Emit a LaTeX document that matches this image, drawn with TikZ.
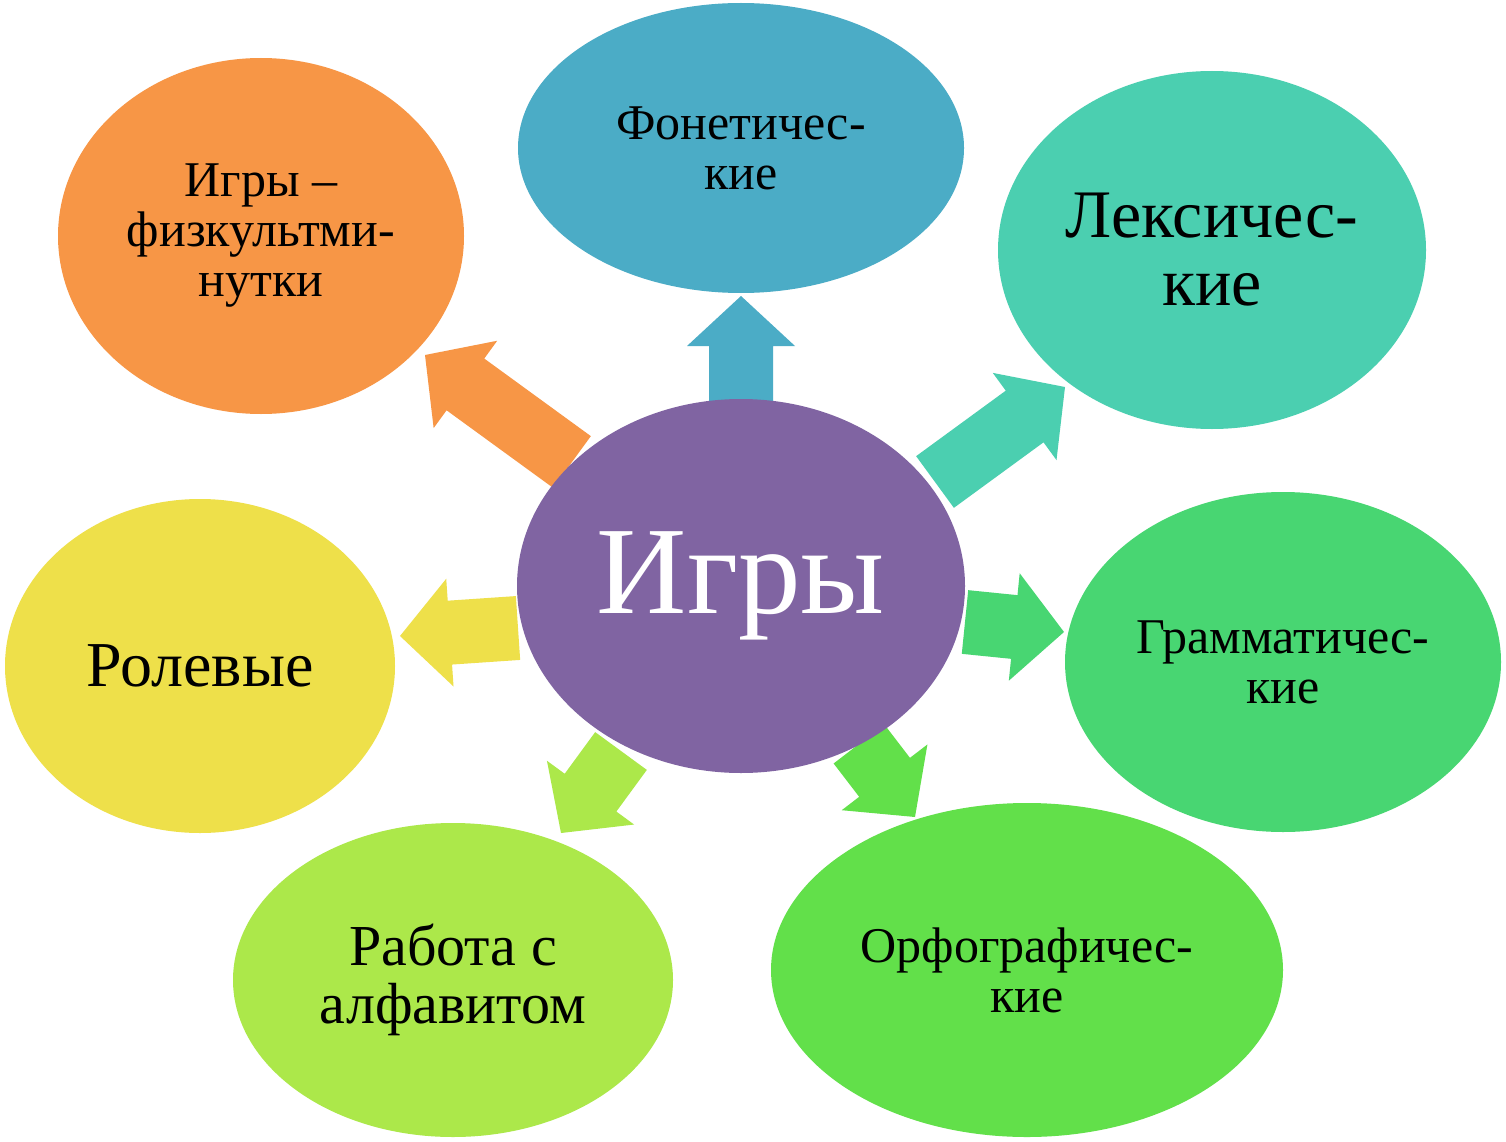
\documentclass[tikz,border=0pt]{standalone}
\usepackage{fontspec}
\setmainfont{Liberation Serif}
\usetikzlibrary{shapes.geometric,calc}
\definecolor{cPurple}{HTML}{8064A2}
\definecolor{cBlue}{HTML}{4BACC6}
\definecolor{cOrange}{HTML}{F79646}
\definecolor{cTeal}{HTML}{4BCFB0}
\definecolor{cYellow}{HTML}{EEE04A}
\definecolor{cGreen}{HTML}{48D672}
\definecolor{cLime}{HTML}{ACE84A}
\definecolor{cLeaf}{HTML}{62E04A}
\newcommand{\fs}[1]{\fontsize{#1}{#1}\selectfont}
% block arrow from base #1 to tip #2
\newcommand{\garrow}[3]{%
  \coordinate (n) at ($(#2)!50pt!(#1)$);
  \fill[#3] ($(#1)!32pt!90:(#2)$) -- ($(n)!32pt!90:(#2)$) -- ($(n)!54pt!90:(#2)$) -- (#2)
    -- ($(n)!54pt!-90:(#2)$) -- ($(n)!32pt!-90:(#2)$) -- ($(#1)!32pt!-90:(#2)$) -- cycle;}
\tikzset{every picture/.style={line width=0.75pt},
  blob/.style={ellipse,inner sep=0pt,align=center,text=black}}

\begin{document}
\begin{tikzpicture}[x=1pt,y=-1pt]
\useasboundingbox (0,0) rectangle (1506,1142);
\fill[white] (0,0) rectangle (1506,1142);

%arrows
\coordinate (bU) at (741,405); \coordinate (tU) at (741,296);
\coordinate (bO) at (572,462); \coordinate (tO) at (425,355);
\coordinate (bL) at (935,482); \coordinate (tL) at (1065,387);
\coordinate (bY) at (518,628); \coordinate (tY) at (400,636);
\coordinate (bG) at (965,622); \coordinate (tG) at (1064,632);
\coordinate (bA) at (621,751); \coordinate (tA) at (561,833);
\coordinate (bR) at (859,744); \coordinate (tR) at (915,817);
\garrow{bU}{tU}{cBlue}
\garrow{bO}{tO}{cOrange}
\garrow{bL}{tL}{cTeal}
\garrow{bY}{tY}{cYellow}
\garrow{bG}{tG}{cGreen}
\garrow{bA}{tA}{cLime}
\garrow{bR}{tR}{cLeaf}

%ellipses
\node[blob,fill=cPurple,minimum width=448,minimum height=374,text=white,font=\fs{125}] (games) at (741,586) {Игры};
\node[blob,fill=cBlue,minimum width=446,minimum height=290,font=\fs{50}] (phon) at (741,148) {Фонетичес-\\кие};
\node[blob,fill=cOrange,minimum width=406,minimum height=356,font=\fs{50}] (phys) at (261,236) {Игры –\\физкультми-\\нутки};
\node[blob,fill=cTeal,minimum width=428,minimum height=358,font=\fs{68}] (lex) at (1212,250) {Лексичес-\\кие};
\node[blob,fill=cYellow,minimum width=390,minimum height=334,font=\fs{64}] (role) at (200,666) {Ролевые};
\node[blob,fill=cGreen,minimum width=436,minimum height=340,font=\fs{50}] (gram) at (1283,662) {Грамматичес-\\кие};
\node[blob,fill=cLime,minimum width=440,minimum height=314,font=\fs{58}] (alph) at (453,980) {Работа с\\алфавитом};
\node[blob,fill=cLeaf,minimum width=512,minimum height=334,font=\fs{50}] (orth) at (1027,970) {Орфографичес-\\кие};
\end{tikzpicture}
\end{document}
